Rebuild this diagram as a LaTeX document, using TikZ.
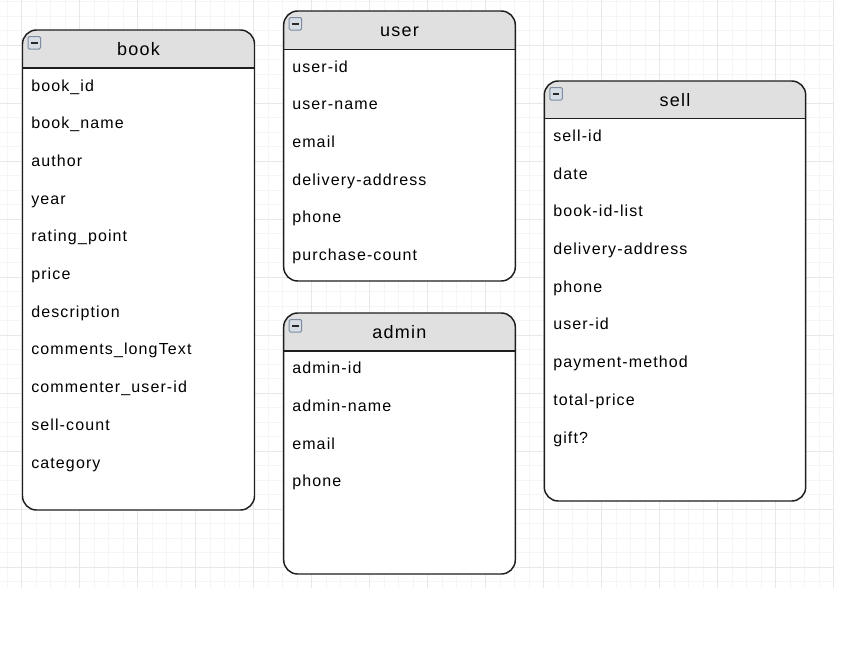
\documentclass[tikz,border=0pt]{standalone}
\usepackage{fontspec}
\setmainfont[LetterSpace=7]{Liberation Sans}

\begin{document}
\begin{tikzpicture}[x=0.75pt,y=0.75pt,yscale=-1,
  gridminor/.style={draw={rgb, 255:red, 245; green, 245; blue, 245 },line width=0.75pt},
  gridmajor/.style={draw={rgb, 255:red, 232; green, 232; blue, 232 },line width=0.75pt},
  tblfill/.style={fill=white,rounded corners=10.5pt},
  tbl/.style={draw={rgb, 255:red, 30; green, 30; blue, 30 },line width=1.1pt,rounded corners=10.5pt},
  hdr/.style={fill={rgb, 255:red, 224; green, 224; blue, 224 },rounded corners=10.5pt},
  sep/.style={draw={rgb, 255:red, 30; green, 30; blue, 30 },line width=1.1pt},
  icon/.style={draw={rgb, 255:red, 125; green, 140; blue, 160 },fill={rgb, 255:red, 214; green, 221; blue, 229 },line width=0.75pt,rounded corners=1pt},
  iconbar/.style={draw={rgb, 255:red, 40; green, 40; blue, 40 },line width=1.5pt},
  ttl/.style={anchor=base,inner sep=0pt,font=\fontsize{13.5}{16}\selectfont},
  row/.style={anchor=base west,inner sep=0pt,font=\fontsize{12}{14}\selectfont}]

\useasboundingbox (0,0) rectangle (860,664);

%Grid
\foreach \gx in {0,...,57} \draw [gridminor] ({7.2+14.5*\gx},0) -- ++(0,588);
\foreach \gy in {0,...,40} \draw [gridminor] (0,{1.8+14.5*\gy}) -- ++(834,0);
\foreach \gx in {0,...,14} \draw [gridmajor] ({21.7+58*\gx},0) -- ++(0,588);
\foreach \gy in {0,...,9} \draw [gridmajor] (0,{45.3+58*\gy}) -- ++(834,0);

%Shape: Table [book]
\fill [tblfill] (22.5,30) rectangle (254.5,510);
\fill [hdr] (22.5,68) -- (22.5,30) -- (254.5,30) -- (254.5,68);
\draw [sep] (22.5,68) -- (254.5,68);
\draw [tbl] (22.5,30) rectangle (254.5,510);
\draw [icon] (28,36.5) rectangle ++(12.5,12.5);
\draw [iconbar] (31,42.75) -- ++(6.5,0);

%Shape: Table [user]
\fill [tblfill] (283.7,11) rectangle (515.3,281);
\fill [hdr] (283.7,49.3) -- (283.7,11) -- (515.3,11) -- (515.3,49.3);
\draw [sep] (283.7,49.3) -- (515.3,49.3);
\draw [tbl] (283.7,11) rectangle (515.3,281);
\draw [icon] (289.2,17.5) rectangle ++(12.5,12.5);
\draw [iconbar] (292.2,23.75) -- ++(6.5,0);

%Shape: Table [admin]
\fill [tblfill] (283.7,313) rectangle (515.3,574);
\fill [hdr] (283.7,351) -- (283.7,313) -- (515.3,313) -- (515.3,351);
\draw [sep] (283.7,351) -- (515.3,351);
\draw [tbl] (283.7,313) rectangle (515.3,574);
\draw [icon] (289.2,319.5) rectangle ++(12.5,12.5);
\draw [iconbar] (292.2,325.75) -- ++(6.5,0);

%Shape: Table [sell]
\fill [tblfill] (544.3,81) rectangle (805.7,501);
\fill [hdr] (544.3,118.7) -- (544.3,81) -- (805.7,81) -- (805.7,118.7);
\draw [sep] (544.3,118.7) -- (805.7,118.7);
\draw [tbl] (544.3,81) rectangle (805.7,501);
\draw [icon] (549.8,87.5) rectangle ++(12.5,12.5);
\draw [iconbar] (552.8,93.75) -- ++(6.5,0);

% Text Node
\node [ttl] (booktitle) at (138.5,55) {book};
\node [ttl] (usertitle) at (399.5,36) {user};
\node [ttl] (admintitle) at (399.5,338) {admin};
\node [ttl] (selltitle) at (675,106) {sell};

% Text Node
\node [row] (book1) at (31,91) {book\_id};
\node [row] (book2) at (31,128.7) {book\_name};
\node [row] (book3) at (31,166.4) {author};
\node [row] (book4) at (31,204.1) {year};
\node [row] (book5) at (31,241.8) {rating\_point};
\node [row] (book6) at (31,279.5) {price};
\node [row] (book7) at (31,317.2) {description};
\node [row] (book8) at (31,354.9) {comments\_longText};
\node [row] (book9) at (31,392.6) {commenter\_user-id};
\node [row] (book10) at (31,430.3) {sell-count};
\node [row] (book11) at (31,468) {category};

% Text Node
\node [row] (user1) at (292,72) {user-id};
\node [row] (user2) at (292,109.7) {user-name};
\node [row] (user3) at (292,147.4) {email};
\node [row] (user4) at (292,185.1) {delivery-address};
\node [row] (user5) at (292,222.8) {phone};
\node [row] (user6) at (292,260.5) {purchase-count};

% Text Node
\node [row] (admin1) at (292,373.7) {admin-id};
\node [row] (admin2) at (292,411.4) {admin-name};
\node [row] (admin3) at (292,449.1) {email};
\node [row] (admin4) at (292,486.8) {phone};

% Text Node
\node [row] (sell1) at (553,141.4) {sell-id};
\node [row] (sell2) at (553,179.1) {date};
\node [row] (sell3) at (553,216.8) {book-id-list};
\node [row] (sell4) at (553,254.5) {delivery-address};
\node [row] (sell5) at (553,292.2) {phone};
\node [row] (sell6) at (553,329.9) {user-id};
\node [row] (sell7) at (553,367.6) {payment-method};
\node [row] (sell8) at (553,405.3) {total-price};
\node [row] (sell9) at (553,443) {gift?};
\end{tikzpicture}
\end{document}
